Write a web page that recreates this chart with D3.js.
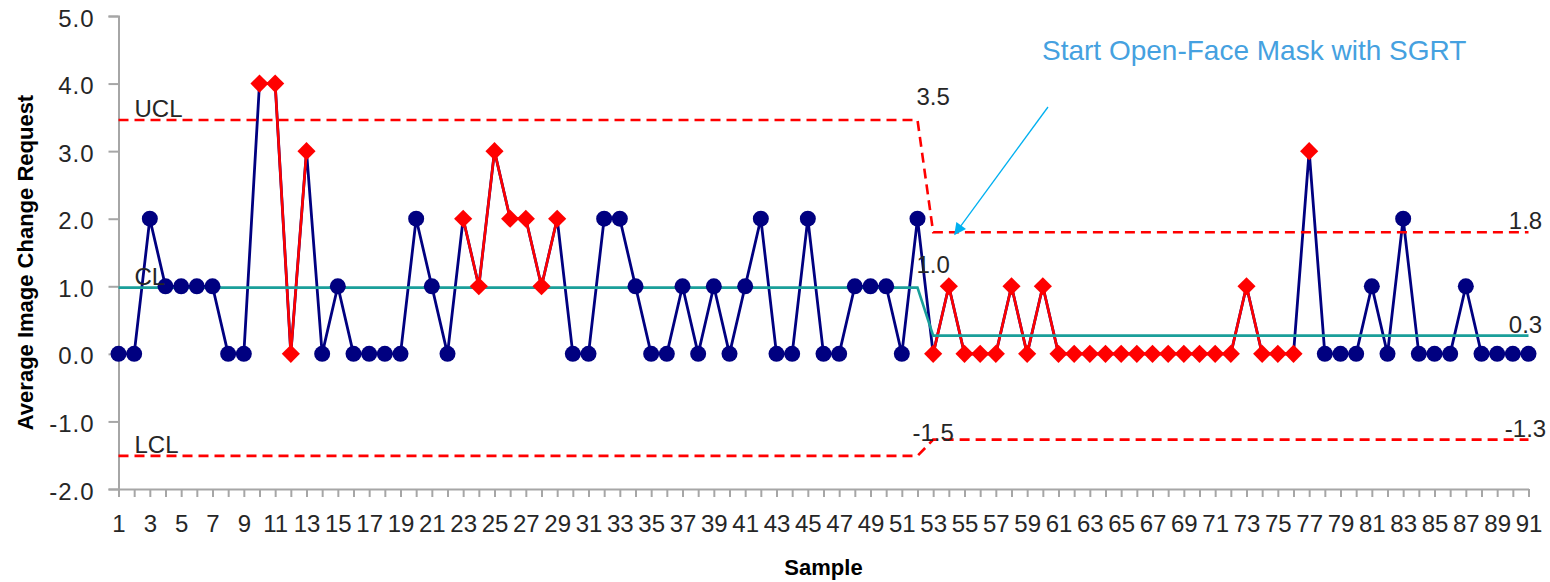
<!DOCTYPE html>
<html>
<head>
<meta charset="utf-8">
<script src="https://cdn.jsdelivr.net/npm/d3@7"></script>
<style>
  html, body { margin: 0; padding: 0; background: #ffffff; }
  svg { display: block; }
</style>
</head>
<body>
<svg id="chart" width="1550" height="582"></svg>
<script>
// ---------------- DATA ----------------
const samples = [1,2,3,4,5,6,7,8,9,10,11,12,13,14,15,16,17,18,19,20,
  21,22,23,24,25,26,27,28,29,30,31,32,33,34,35,36,37,38,39,40,
  41,42,43,44,45,46,47,48,49,50,51,52,53,54,55,56,57,58,59,60,
  61,62,63,64,65,66,67,68,69,70,71,72,73,74,75,76,77,78,79,80,
  81,82,83,84,85,86,87,88,89,90,91];

const values = [0,0,2,1,1,1,1,0,0,4,4,0,3,0,1,0,0,0,0,2,
  1,0,2,1,3,2,2,1,2,0,0,2,2,1,0,0,1,0,1,0,
  1,2,0,0,2,0,0,1,1,1,0,2,0,1,0,0,0,1,0,1,
  0,0,0,0,0,0,0,0,0,0,0,0,1,0,0,0,3,0,0,0,
  1,0,2,0,0,0,1,0,0,0,0];

// runs of flagged (special-cause) samples, drawn red
const flaggedRuns = [[10,13],[23,29],[53,76],[77,77]];

// two phases of the control chart
const phaseLastSample = [52, 91];
const uclValues = [3.46, 1.80];
const clValues  = [0.98, 0.27];
const lclValues = [-1.51, -1.27];
const uclLabels = ["3.5", "1.8"];
const clLabels  = ["1.0", "0.3"];
const lclLabels = ["-1.5", "-1.3"];

const yTicks = [-2, -1, 0, 1, 2, 3, 4, 5];
const xTickLabels = samples.filter(s => s % 2 === 1);

const annotationText = "Start Open-Face Mask with SGRT";
const yTitle = "Average Image Change Request";
const xTitle = "Sample";

// ---------------- CHART ----------------
(function () {
const svg = d3.select("#chart");
const pLeft = 118.5, pRight = 1528.5, pTop = 16, pBottom = 489;

const x = d3.scalePoint().domain(samples).range([pLeft, pRight]);
const y = d3.scaleLinear().domain([-2, 5]).range([pBottom, pTop]);

const navy = "#000080", red = "#ff0000", teal = "#1a9f9a", axisGray = "#a6a6a6";
const tickFont = "'Liberation Sans', Arial, sans-serif";

const phaseOf = s => (s <= phaseLastSample[0] ? 0 : 1);
const pts = samples.map((s, i) => ({ s, v: values[i] }));
const isFlagged = s => flaggedRuns.some(r => s >= r[0] && s <= r[1]);

// axes
const yAxis = d3.axisLeft(y).tickValues(yTicks).tickSize(10).tickPadding(14)
  .tickFormat(d => d.toFixed(1));
const gy = svg.append("g").attr("transform", `translate(${pLeft},0)`).call(yAxis);
gy.select(".domain").attr("stroke", axisGray).attr("stroke-width", 2);
gy.selectAll(".tick line").attr("stroke", axisGray).attr("stroke-width", 2);
gy.selectAll(".tick text").attr("fill", "#262626").style("font-family", tickFont)
  .style("font-size", "24px").attr("letter-spacing", "1px").attr("dy", "0.42em");

const xAxis = d3.axisBottom(x).tickSize(8).tickSizeOuter(0).tickPadding(18)
  .tickFormat(d => (xTickLabels.includes(d) ? String(d) : ""));
const gx = svg.append("g").attr("transform", `translate(0,${pBottom})`).call(xAxis);
gx.select(".domain").attr("stroke", axisGray).attr("stroke-width", 2);
gx.selectAll(".tick line").attr("stroke", axisGray).attr("stroke-width", 2);
gx.selectAll(".tick text").attr("fill", "#262626").style("font-family", tickFont)
  .style("font-size", "24px");

// data line (navy)
const line = d3.line().x(d => x(d.s)).y(d => y(d.v));
svg.append("path").datum(pts).attr("fill", "none").attr("stroke", navy)
  .attr("stroke-width", 2.8).attr("stroke-linejoin", "round").attr("d", line);

// flagged runs (red)
flaggedRuns.forEach(r => {
  const seg = pts.filter(p => p.s >= r[0] && p.s <= r[1]);
  if (seg.length > 1) {
    svg.append("path").datum(seg).attr("fill", "none").attr("stroke", red)
      .attr("stroke-width", 2.6).attr("stroke-linejoin", "round").attr("d", line);
  }
});

// control limits
const limitSeries = (vals) => samples.map(s => ({ s, v: vals[phaseOf(s)] }));
[uclValues, lclValues].forEach(vals => {
  svg.append("path").datum(limitSeries(vals)).attr("fill", "none")
    .attr("stroke", red).attr("stroke-width", 2.6).attr("stroke-dasharray", "10,6")
    .attr("d", line);
});
svg.append("path").datum(limitSeries(clValues)).attr("fill", "none")
  .attr("stroke", teal).attr("stroke-width", 2.6).attr("d", line);

// markers
const circ = pts.filter(p => !isFlagged(p.s));
const diam = pts.filter(p => isFlagged(p.s));
svg.append("g").selectAll("circle").data(circ).join("circle")
  .attr("cx", d => x(d.s)).attr("cy", d => y(d.v)).attr("r", 8).attr("fill", navy);
const diamondPath = d3.symbol(d3.symbolSquare, 165)();
svg.append("g").selectAll("path").data(diam).join("path")
  .attr("d", diamondPath)
  .attr("transform", d => `translate(${x(d.s)},${y(d.v)}) rotate(45)`)
  .attr("fill", red);

// limit labels
const labelStyle = sel => sel.attr("fill", "#262626").style("font-family", tickFont)
  .style("font-size", "24px");
const firstPhase2 = samples[phaseLastSample[0]];
const lastSample = samples[samples.length - 1];
const lbl = svg.append("g");
[["UCL", uclValues[0]], ["CL", clValues[0]], ["LCL", lclValues[0]]].forEach(([t, v]) => {
  lbl.append("text").attr("x", x(samples[0]) + 16).attr("y", y(v) - 3).text(t).call(labelStyle);
});
[[uclLabels[0], uclValues[0]], [clLabels[0], clValues[0]], [lclLabels[0], lclValues[0]]].forEach(([t, v]) => {
  lbl.append("text").attr("x", x(firstPhase2)).attr("y", y(v) - 15)
    .attr("text-anchor", "middle").text(t).call(labelStyle);
});
[[uclLabels[1], uclValues[1]], [clLabels[1], clValues[1]], [lclLabels[1], lclValues[1]]].forEach(([t, v]) => {
  lbl.append("text").attr("x", x(lastSample) - 3).attr("y", y(v) - 3)
    .attr("text-anchor", "middle").text(t).call(labelStyle);
});

// axis titles
svg.append("text")
  .attr("transform", `translate(33,${(pTop + pBottom) / 2 + 10}) rotate(-90)`)
  .attr("text-anchor", "middle").attr("fill", "#000")
  .style("font-family", tickFont).style("font-weight", "bold").style("font-size", "22px")
  .text(yTitle);
svg.append("text").attr("x", (pLeft + pRight) / 2).attr("y", 575)
  .attr("text-anchor", "middle").attr("fill", "#000")
  .style("font-family", tickFont).style("font-weight", "bold").style("font-size", "22px")
  .text(xTitle);

// annotation
svg.append("text").attr("x", 1042).attr("y", 60).attr("fill", "#45a1e0")
  .style("font-family", tickFont).style("font-size", "28px").text(annotationText);
const defs = svg.append("defs");
defs.append("marker").attr("id", "arrowhead").attr("viewBox", "0 0 10 10")
  .attr("refX", 9).attr("refY", 5).attr("markerWidth", 14).attr("markerHeight", 12)
  .attr("markerUnits", "userSpaceOnUse").attr("orient", "auto")
  .append("path").attr("d", "M0,0 L10,5 L0,10 Z").attr("fill", "#00b0f0");
svg.append("line")
  .attr("x1", 1048).attr("y1", 107)
  .attr("x2", x(54) + 6).attr("y2", y(uclValues[1]) + 2)
  .attr("stroke", "#00b0f0").attr("stroke-width", 1.3)
  .attr("marker-end", "url(#arrowhead)");
})();
</script>
</body>
</html>
